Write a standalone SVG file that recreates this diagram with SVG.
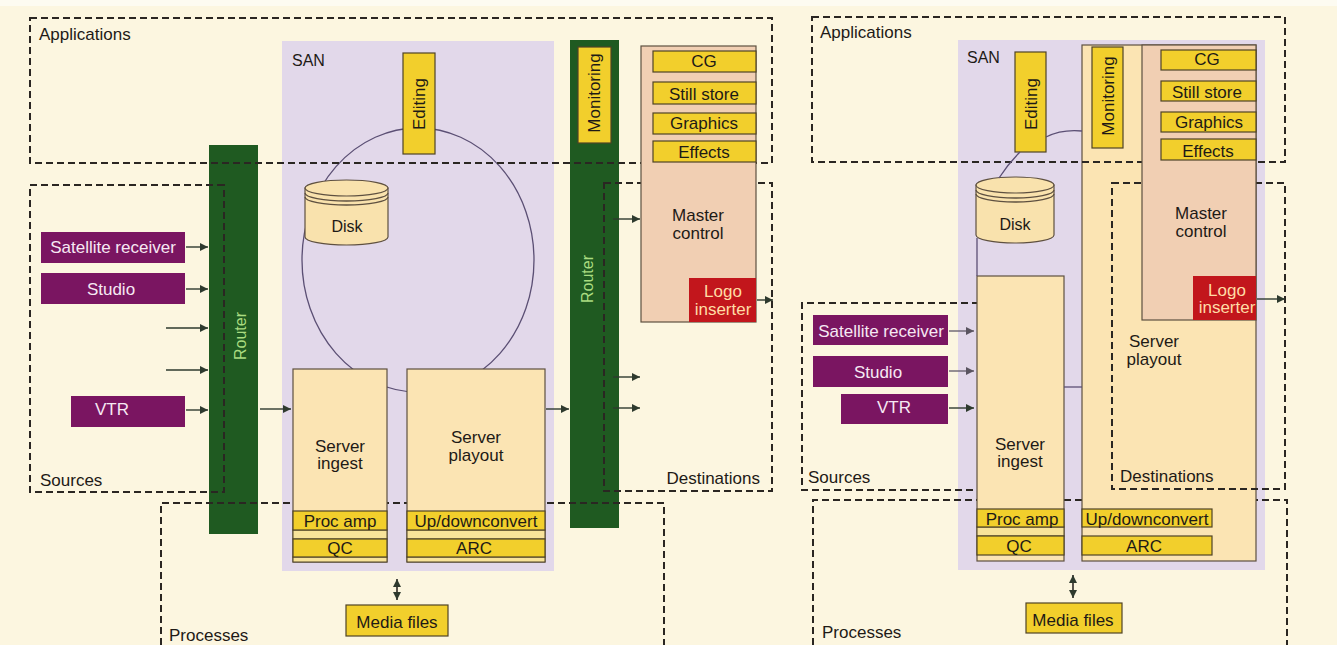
<svg xmlns="http://www.w3.org/2000/svg" width="1337" height="645" viewBox="0 0 1337 645">
  <defs>
    <marker id="arr" viewBox="0 0 10 10" refX="10" refY="5" markerWidth="9" markerHeight="8" orient="auto-start-reverse" markerUnits="userSpaceOnUse">
      <path d="M0,0 L10,5 L0,10 z" fill="#2e3a2e"/>
    </marker>
    <marker id="arrg" viewBox="0 0 10 10" refX="10" refY="5" markerWidth="9" markerHeight="8" orient="auto-start-reverse" markerUnits="userSpaceOnUse">
      <path d="M0,0 L10,5 L0,10 z" fill="#5a5460"/>
    </marker>
  </defs>
  <style>
    text { font-family: "Liberation Sans", Arial, sans-serif; font-size: 17px; fill: #1e1a16; }
    .c { text-anchor: middle; }
    .e { text-anchor: end; }
    .san { fill: #e2d8ea; }
    .router { fill: #1f5a21; }
    .rtxt { fill: #a9dc80; font-size: 16px; text-anchor: middle; }
    .dash { fill: none; stroke: #2a2622; stroke-width: 2; stroke-dasharray: 7 4; }
    .ybox { fill: #f2cf2c; stroke: #4f4326; stroke-width: 1.2; }
    .strip { fill: #f8e39a; stroke: #4f4326; stroke-width: 1; }
    .srv { fill: #fbe4b3; stroke: #5e5040; stroke-width: 1.2; }
    .mc { fill: #f1cfb3; stroke: #5e5040; stroke-width: 1.2; }
    .src { fill: #7a1561; }
    .stxt { fill: #f6e8f3; text-anchor: middle; }
    .logo { fill: #c2161c; }
    .ltxt { fill: #ffdca6; text-anchor: middle; }
    .disk { fill: #f9e2ad; stroke: #5e5040; stroke-width: 1.2; }
    .wire { fill: none; stroke: #5b4f74; stroke-width: 1.3; }
    .link { fill: none; stroke: #2e3a2e; stroke-width: 1.4; marker-end: url(#arr); }
    .linkg { fill: none; stroke: #6a6470; stroke-width: 1.4; marker-end: url(#arrg); }
    .both { fill: none; stroke: #2e2a26; stroke-width: 1.6; marker-start: url(#arr); marker-end: url(#arr); }
  </style>

  <!-- paper -->
  <rect x="0" y="0" width="1337" height="645" fill="#fdfbf1"/>
  <rect x="0" y="6" width="1337" height="639" fill="#fcf6e0"/>

  <!-- ================= LEFT: routed facility ================= -->
  <g id="left-san">
    <rect class="san" x="282" y="41" width="272" height="530"/>
    <text x="292" y="66" style="font-size:16px">SAN</text>
    <ellipse class="wire" cx="418" cy="260" rx="116" ry="132"/>
  </g>
  <g id="left-router-in">
    <rect class="router" x="209" y="145" width="49" height="389"/>
    <text class="rtxt" transform="translate(246 336) rotate(-90)">Router</text>
  </g>
  <g id="left-router-out">
    <rect class="router" x="570" y="40" width="49" height="488"/>
    <text class="rtxt" transform="translate(593 279) rotate(-90)">Router</text>
  </g>

  <!-- functional areas -->
  <g id="left-areas">
    <rect class="dash" x="30" y="18" width="742" height="145"/>
    <text x="39" y="40">Applications</text>
    <path class="dash" d="M224,185 H30 V492 H224 Z"/>
    <text x="40" y="486">Sources</text>
    <path class="dash" d="M161,645 V503 H664 V645"/>
    <text x="169" y="641">Processes</text>
    <rect class="dash" x="604" y="183" width="168" height="308"/>
    <text class="e" x="760" y="484">Destinations</text>
  </g>

  <g id="left-editing">
    <rect class="ybox" x="403" y="53" width="32" height="101"/>
    <text class="c" transform="translate(425 104) rotate(-90)">Editing</text>
  </g>
  <g id="left-monitoring">
    <rect class="ybox" x="578" y="47" width="33" height="96"/>
    <text class="c" transform="translate(600 93) rotate(-90)">Monitoring</text>
  </g>
  <g id="left-disk">
    <path class="disk" d="M305,188 V237 A41.5,8 0 0 0 388,237 V188 Z"/>
    <ellipse class="disk" cx="346.5" cy="188" rx="41.5" ry="8"/>
    <path class="wire" style="stroke:#5e5040" d="M305,193 A41.5,8 0 0 0 388,193 M305,197 A41.5,8 0 0 0 388,197"/>
    <text class="c" x="347" y="232" style="font-size:16px">Disk</text>
  </g>

  <g id="left-master-control">
    <rect class="mc" x="641" y="46" width="115" height="276"/>
    <rect class="ybox" x="653" y="51" width="103" height="21"/>
    <text class="c" x="704" y="67">CG</text>
    <rect class="ybox" x="653" y="82" width="103" height="22"/>
    <text class="c" x="704" y="100">Still store</text>
    <rect class="ybox" x="653" y="113" width="103" height="21"/>
    <text class="c" x="704" y="129">Graphics</text>
    <rect class="ybox" x="653" y="141" width="103" height="21"/>
    <text class="c" x="704" y="158">Effects</text>
    <text class="c" x="698" y="221">Master</text>
    <text class="c" x="698" y="239">control</text>
  </g>
  <g id="left-logo-inserter">
    <rect class="logo" x="689" y="278" width="67" height="44"/>
    <text class="ltxt" x="723" y="297">Logo</text>
    <text class="ltxt" x="723" y="315">inserter</text>
  </g>

  <g id="left-server-ingest">
    <rect class="srv" x="293" y="369" width="94" height="193"/>
    <text class="c" x="340" y="452">Server</text>
    <text class="c" x="340" y="469">ingest</text>
    <rect class="strip" x="293" y="530" width="94" height="9"/>
    <rect class="strip" x="293" y="557" width="94" height="5"/>
    <rect class="ybox" x="293" y="511" width="94" height="19"/>
    <text class="c" x="340" y="527">Proc amp</text>
    <rect class="ybox" x="293" y="539" width="94" height="18"/>
    <text class="c" x="340" y="554">QC</text>
  </g>
  <g id="left-server-playout">
    <rect class="srv" x="407" y="369" width="138" height="193"/>
    <text class="c" x="476" y="443">Server</text>
    <text class="c" x="476" y="461">playout</text>
    <rect class="strip" x="407" y="530" width="138" height="9"/>
    <rect class="strip" x="407" y="557" width="138" height="5"/>
    <rect class="ybox" x="407" y="511" width="138" height="19"/>
    <text class="c" x="476" y="527">Up/downconvert</text>
    <rect class="ybox" x="407" y="539" width="138" height="18"/>
    <text class="c" x="474" y="554">ARC</text>
  </g>
  <g id="left-media-files">
    <rect class="ybox" x="346" y="605" width="102" height="31"/>
    <text class="c" x="397" y="628">Media files</text>
  </g>

  <g id="left-satellite">
    <rect class="src" x="41" y="232" width="144" height="31"/>
    <text class="stxt" x="113" y="253">Satellite receiver</text>
  </g>
  <g id="left-studio">
    <rect class="src" x="41" y="273" width="144" height="31"/>
    <text class="stxt" x="111" y="295">Studio</text>
  </g>
  <g id="left-vtr">
    <rect class="src" x="71" y="396" width="114" height="31"/>
    <text class="stxt" x="112" y="415">VTR</text>
  </g>

  <g id="left-connectors">
    <path class="link" d="M186,247 H208"/>
    <path class="link" d="M186,289 H208"/>
    <path class="link" d="M166,328 H208"/>
    <path class="link" d="M166,370 H208"/>
    <path class="link" d="M186,410 H208"/>
    <path class="link" d="M260,409 H291"/>
    <path class="link" d="M546,409 H569"/>
    <path class="link" d="M613,219 H640"/>
    <path class="link" d="M613,377 H640"/>
    <path class="link" d="M613,408 H640"/>
    <path class="link" d="M757,300 H773"/>
    <path class="both" d="M397,579 V600"/>
  </g>

  <!-- ================= RIGHT: integrated facility ================= -->
  <g id="right-san">
    <rect class="san" x="958" y="40" width="307" height="530"/>
    <text x="967" y="63" style="font-size:16px">SAN</text>
  </g>

  <g id="right-processes-area">
    <path class="dash" d="M813,645 V500 H1287 V645"/>
    <text x="822" y="638">Processes</text>
  </g>
  <g id="right-sources-area">
    <path class="dash" d="M990,303 H802 V490 H990"/>
    <text x="808" y="483">Sources</text>
  </g>

  <g id="right-server-playout">
    <rect class="srv" x="1082" y="45" width="174" height="516"/>
    <text class="c" x="1154" y="347">Server</text>
    <text class="c" x="1154" y="365">playout</text>
    <rect class="ybox" x="1082" y="509" width="130" height="18"/>
    <text class="c" x="1147" y="525">Up/downconvert</text>
    <rect class="ybox" x="1082" y="536" width="130" height="19"/>
    <text class="c" x="1144" y="552">ARC</text>
  </g>
  <g id="right-server-ingest">
    <rect class="srv" x="977" y="276" width="87" height="285"/>
    <text class="c" x="1020" y="450">Server</text>
    <text class="c" x="1020" y="467">ingest</text>
    <rect class="strip" x="977" y="527" width="87" height="9"/>
    <rect class="ybox" x="977" y="509" width="87" height="18"/>
    <text class="c" x="1022" y="525">Proc amp</text>
    <rect class="ybox" x="977" y="536" width="87" height="19"/>
    <text class="c" x="1019" y="552">QC</text>
  </g>

  <g id="right-areas">
    <rect class="dash" x="812" y="17" width="473" height="145"/>
    <text x="820" y="38">Applications</text>
    <rect class="dash" x="1112" y="183" width="173" height="306"/>
    <text x="1120" y="482">Destinations</text>
  </g>

  <g id="right-master-control">
    <rect class="mc" x="1142" y="45" width="114" height="275"/>
    <rect class="ybox" x="1161" y="50" width="95" height="20"/>
    <text class="c" x="1207" y="65">CG</text>
    <rect class="ybox" x="1161" y="81" width="95" height="20"/>
    <text class="c" x="1207" y="98">Still store</text>
    <rect class="ybox" x="1161" y="112" width="95" height="20"/>
    <text class="c" x="1209" y="128">Graphics</text>
    <rect class="ybox" x="1161" y="139" width="95" height="21"/>
    <text class="c" x="1208" y="157">Effects</text>
    <text class="c" x="1201" y="219">Master</text>
    <text class="c" x="1201" y="237">control</text>
  </g>
  <g id="right-logo-inserter">
    <rect class="logo" x="1193" y="276" width="63" height="44"/>
    <text class="ltxt" x="1227" y="296">Logo</text>
    <text class="ltxt" x="1227" y="313">inserter</text>
  </g>
  <g id="right-monitoring">
    <rect class="ybox" x="1092" y="47" width="31" height="101"/>
    <text class="c" transform="translate(1114 96) rotate(-90)">Monitoring</text>
  </g>
  <g id="right-editing">
    <rect class="ybox" x="1015" y="52" width="31" height="100"/>
    <text class="c" transform="translate(1037 104) rotate(-90)">Editing</text>
  </g>
  <g id="right-disk">
    <path class="disk" d="M976,185 V235 A39,8 0 0 0 1054,235 V185 Z"/>
    <ellipse class="disk" cx="1015" cy="185" rx="39" ry="8"/>
    <path class="wire" style="stroke:#5e5040" d="M976,190 A39,8 0 0 0 1054,190 M976,194 A39,8 0 0 0 1054,194"/>
    <text class="c" x="1015" y="230" style="font-size:16px">Disk</text>
  </g>
  <g id="right-media-files">
    <rect class="ybox" x="1026" y="603" width="96" height="30"/>
    <text class="c" x="1073" y="626">Media files</text>
  </g>

  <g id="right-satellite">
    <rect class="src" x="813" y="315" width="135" height="30"/>
    <text class="stxt" x="881" y="337">Satellite receiver</text>
  </g>
  <g id="right-studio">
    <rect class="src" x="813" y="356" width="135" height="31"/>
    <text class="stxt" x="878" y="378">Studio</text>
  </g>
  <g id="right-vtr">
    <rect class="src" x="841" y="394" width="107" height="30"/>
    <text class="stxt" x="894" y="413">VTR</text>
  </g>

  <g id="right-connectors">
    <path class="wire" d="M1020,152 Q1008,164 999,178"/>
    <path class="wire" d="M1046,137 Q1062,129 1082,131"/>
    <path class="wire" d="M977,238 V276"/>
    <path class="wire" d="M1064,387 H1082"/>
    <path class="linkg" d="M949,331 H974"/>
    <path class="linkg" d="M949,371 H974"/>
    <path class="link" d="M949,408 H974"/>
    <path class="link" d="M1257,299 H1285"/>
    <path class="both" d="M1073,575 V598"/>
  </g>
</svg>
